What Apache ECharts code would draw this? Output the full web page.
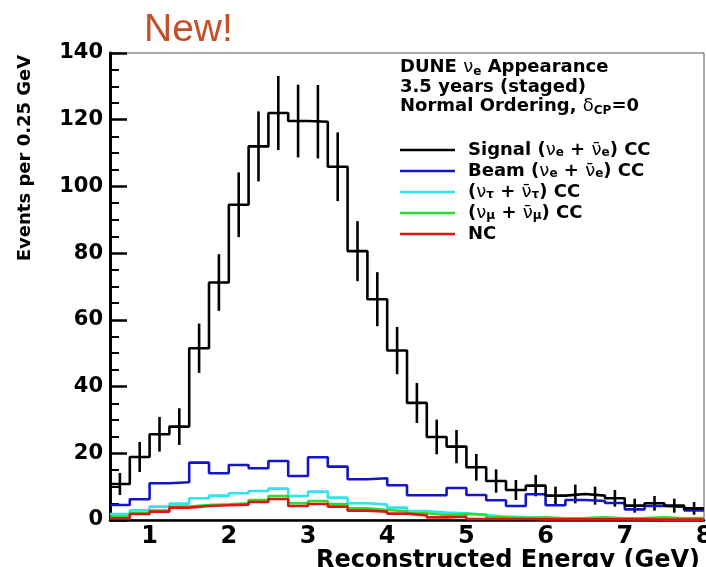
<!DOCTYPE html>
<html>
<head>
<meta charset="utf-8">
<script src="https://cdn.jsdelivr.net/npm/echarts@6/dist/echarts.min.js"></script>
<style>
  html, body { margin: 0; padding: 0; background: #fff; }
  #chart { width: 706px; height: 567px; }
</style>
</head>
<body>
<div id="chart"></div>
<script>
// lower edges of the 0.25 GeV bins
const binLow = [0.5, 0.75, 1.0, 1.25, 1.5, 1.75, 2.0, 2.25, 2.5, 2.75, 3.0, 3.25, 3.5, 3.75, 4.0,
  4.25, 4.5, 4.75, 5.0, 5.25, 5.5, 5.75, 6.0, 6.25, 6.5, 6.75, 7.0, 7.25, 7.5, 7.75]
const binWidth = 0.25
const xTicks = [1, 2, 3, 4, 5, 6, 7, 8]
const yTicks = [0, 20, 40, 60, 80, 100, 120, 140]

const signal = [10.8, 18.9, 25.7, 28.0, 51.5, 71.2, 94.5, 112.0, 122.0, 119.6, 119.4, 105.9, 80.6, 66.2, 50.8,
  35.1, 24.9, 22.0, 15.8, 11.7, 9.0, 10.3, 7.3, 7.8, 7.3, 6.5, 4.3, 5.0, 4.3, 3.5]
const signalErr = [3.3, 4.5, 5.2, 5.5, 7.4, 8.5, 9.7, 10.5, 11.1, 10.9, 11.0, 10.3, 9.0, 8.1, 7.1,
  6.0, 5.2, 5.0, 4.0, 3.5, 3.0, 3.2, 2.7, 2.8, 2.7, 2.5, 2.1, 2.2, 2.1, 1.9]
const beam = [4.5, 6.2, 11.0, 11.3, 17.2, 14.0, 16.5, 15.5, 17.7, 13.2, 18.8, 16.0, 12.2, 12.5, 10.4,
  7.4, 7.4, 9.6, 7.5, 5.9, 4.2, 7.7, 4.4, 6.0, 5.7, 5.1, 3.2, 4.2, 3.9, 2.9]
const nuTau = [1.8, 2.9, 4.0, 4.9, 6.5, 7.3, 8.0, 8.7, 9.4, 7.2, 8.5, 6.7, 5.0, 4.6, 3.7,
  2.7, 2.2, 2.0, 1.5, 1.0, 0.8, 0.6, 0.5, 0.5, 0.4, 0.4, 0.3, 0.3, 0.3, 0.3]
const nuMu = [1.0, 2.1, 2.8, 4.0, 4.5, 4.7, 5.0, 6.0, 7.2, 5.0, 5.7, 4.8, 3.5, 3.0, 2.6,
  2.0, 1.5, 1.8, 1.6, 0.8, 0.6, 0.8, 0.5, 0.6, 0.8, 0.5, 0.6, 0.8, 0.5, 0.6]
const nc = [0.5, 1.8, 2.5, 3.7, 4.2, 4.4, 4.6, 5.4, 6.3, 4.2, 4.8, 4.0, 2.8, 2.5, 1.9,
  1.4, 0.8, 1.0, 0.3, 0.3, 0.3, 0.2, 0.2, 0.2, 0.2, 0.2, 0.2, 0.1, 0.1, 0.1]

const FONT = 'DejaVu Sans'

// step histogram points: one per bin low edge, plus the last upper edge
function histData(vals) {
  const d = binLow.map((x, i) => [x, vals[i]])
  d.push([binLow[binLow.length - 1] + binWidth, vals[vals.length - 1]])
  return d
}

function histSeries(name, vals, color) {
  return {
    name: name,
    type: 'line',
    step: 'end',
    showSymbol: false,
    symbol: 'none',
    data: histData(vals),
    lineStyle: { color: color, width: 2.6 },
    itemStyle: { color: color },
    emphasis: { disabled: true }
  }
}

const subStyle = { fontSize: 12, fontWeight: 'bold', fontFamily: FONT, color: '#000', lineHeight: 10, verticalAlign: 'bottom' }
const greekStyle = { fontSize: 18, fontWeight: 'normal', fontFamily: FONT, color: '#000' }

const legendText = {
  Signal: 'Signal ({g|\u03bd}{s|e} + {g|\u03bd\u0304}{s|e}) CC',
  Beam: 'Beam ({g|\u03bd}{s|e} + {g|\u03bd\u0304}{s|e}) CC',
  Tau: '({g|\u03bd}{s|\u03c4} + {g|\u03bd\u0304}{s|\u03c4}) CC',
  Mu: '({g|\u03bd}{s|\u03bc} + {g|\u03bd\u0304}{s|\u03bc}) CC',
  NC: 'NC'
}

const chart = echarts.init(document.getElementById('chart'))
const option = {
  animation: false,
  backgroundColor: '#fff',
  title: [
    {
      text: 'New!',
      left: 144,
      top: 11,
      padding: 0,
      textStyle: { color: '#c4502a', fontSize: 39, fontWeight: 'normal', fontFamily: 'Liberation Sans' }
    },
    {
      text: 'DUNE {g|\u03bd}{s|e} Appearance\n3.5 years (staged)\nNormal Ordering, {g|\u03b4}{s|CP}=0',
      left: 400,
      top: 58,
      padding: 0,
      textStyle: {
        fontSize: 18, fontWeight: 'bold', fontFamily: FONT, color: '#000', lineHeight: 19.5,
        rich: { s: subStyle, g: greekStyle }
      }
    }
  ],
  legend: {
    orient: 'vertical',
    left: 395,
    top: 136,
    icon: 'rect',
    itemWidth: 55,
    itemHeight: 2.5,
    itemGap: 3,
    selectedMode: false,
    data: ['Signal', 'Beam', 'Tau', 'Mu', 'NC'],
    formatter: name => legendText[name],
    textStyle: {
      fontSize: 18, fontWeight: 'bold', fontFamily: FONT, color: '#000', lineHeight: 18,
      padding: [0, 0, 0, 8],
      rich: { s: subStyle, g: greekStyle }
    }
  },
  grid: {
    left: 110,
    top: 53,
    right: 2,
    bottom: 47,
    show: true,
    borderColor: '#555',
    borderWidth: 1,
    containLabel: false,
    outerBoundsMode: 'none'
  },
  graphic: [
    {
      type: 'text',
      x: 25,
      y: 158,
      rotation: Math.PI / 2,
      style: {
        text: 'Events per 0.25 GeV',
        fontSize: 18, fontWeight: 'bold', fontFamily: FONT, fill: '#000',
        align: 'center', verticalAlign: 'middle'
      }
    },
    {
      type: 'text',
      x: 700,
      y: 549,
      style: {
        text: 'Reconstructed Energy (GeV)',
        fontSize: 24, fontWeight: 'bold', fontFamily: FONT, fill: '#000',
        align: 'right', verticalAlign: 'top'
      }
    }
  ],
  xAxis: {
    type: 'value',
    min: 0.5,
    max: 8,
    interval: 0.5,
    axisLine: { show: true, onZero: false, lineStyle: { color: '#000', width: 2.5 } },
    axisTick: { show: false },
    splitLine: { show: false },
    axisLabel: {
      margin: 5,
      fontSize: 24, fontWeight: 'bold', fontFamily: FONT, color: '#000',
      formatter: v => (xTicks.indexOf(v) >= 0 ? String(v) : '')
    }
  },
  yAxis: {
    type: 'value',
    min: yTicks[0],
    max: yTicks[yTicks.length - 1],
    interval: 20,
    axisLine: { show: true, lineStyle: { color: '#000', width: 3 } },
    axisTick: { show: true, inside: true, length: 17, lineStyle: { color: '#000', width: 2.5 } },
    minorTick: { show: true, splitNumber: 4, length: 9, lineStyle: { color: '#000', width: 2 } },
    splitLine: { show: false },
    axisLabel: {
      margin: 7,
      fontSize: 21, fontWeight: 'bold', fontFamily: FONT, color: '#000'
    }
  },
  series: [
    histSeries('Tau', nuTau, '#2fe4ec'),
    histSeries('Mu', nuMu, '#2ddc2d'),
    histSeries('NC', nc, '#e01414'),
    histSeries('Beam', beam, '#1515c8'),
    histSeries('Signal', signal, '#000000'),
    {
      name: 'errors',
      type: 'custom',
      data: binLow.map((x, i) => [x + binWidth / 2, signal[i], signalErr[i]]),
      renderItem: function(params, api) {
        const x = api.value(0)
        const v = api.value(1)
        const e = api.value(2)
        const p1 = api.coord([x, v + e])
        const p2 = api.coord([x, v - e])
        return {
          type: 'line',
          shape: { x1: p1[0], y1: p1[1], x2: p2[0], y2: p2[1] },
          style: { stroke: '#000', lineWidth: 2.6 }
        }
      },
      z: 3
    }
  ]
}
chart.setOption(option)
window.onresize = function() {
  chart.resize()
}
</script>
</body>
</html>
